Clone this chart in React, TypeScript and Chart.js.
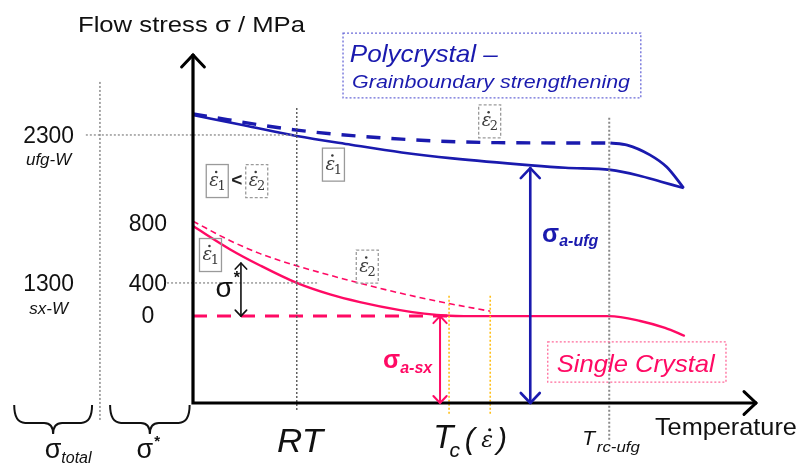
import React, { useEffect, useRef } from 'react';
import { Chart, registerables } from 'chart.js';
Chart.register(...registerables);

// ---- Schematic data (relative temperature 0..100, relative flow stress 0..100) ----
// Polycrystal (ufg-W), strain rate ε̇1 (solid)
const ufgEps1T = [0, 9, 18.4, 28, 37, 46, 60, 66, 74, 79, 83, 87];
const ufgEps1S = [82.5, 79.6, 76.5, 74.0, 71.8, 70.1, 68.1, 67.4, 66.8, 65.2, 63.4, 61.6];
// Polycrystal, strain rate ε̇2 (dashed, until recrystallisation)
const ufgEps2T = [0, 18.4, 37, 54, 74];
const ufgEps2S = [82.8, 78.2, 75.6, 74.6, 74.5];
// Polycrystal above T_rc (solid)
const ufgRcT = [74, 77, 81, 84, 87];
const ufgRcS = [74.5, 73.9, 71.1, 67.6, 61.6];
// Single crystal, ε̇1 (solid)
const sxEps1T = [0, 6.6, 11.9, 18.4, 24.3, 29.6, 36.7, 41, 45.4, 48, 73.8, 79.3, 83.7, 87.2];
const sxEps1S = [50.7, 44.0, 39.4, 34.4, 31.1, 28.9, 26.6, 25.6, 25.0, 24.9, 24.9, 23.5, 21.5, 19.2];
// Single crystal, ε̇2 (thin dashed)
const sxEps2T = [0, 6.6, 11.9, 18.4, 24.3, 29.6, 36.7, 43.8, 52.7];
const sxEps2S = [52.1, 46.5, 42.8, 39.3, 36.6, 34.3, 31.5, 29.0, 26.3];
// Athermal level of single crystal (thick dashed)
const sxAthT = [0, 46];
const sxAthS = [24.9, 24.9];

// Characteristic temperatures
const T_RT = 18.4;
const T_C = [45.4, 52.7];
const T_RC = 73.8;

// Stress levels
const LEVEL_2300 = 76.8;
const LEVEL_400 = 34.4;
const LEVEL_0 = 24.9;
const sigmaStarTickLabels = ['800', '400', '0'];
const sigmaStarTickLevels = [51.0, 33.8, 24.6];
const totalTickLabels = ['2300', '1300'];
const totalTickSubs = ['ufg-W', 'sx-W'];
const totalTickLevels = [76.3, 33.8];

const BLUE = '#1a1aae';
const PINK = '#ff0a64';
const GRAY = '#8a8a8a';
const ORANGE = '#ffbf1a';
const SANS = '"Liberation Sans", Arial, sans-serif';
const SERIF = '"DejaVu Serif", "Liberation Serif", serif';

const zip = (xs: number[], ys: number[]) => xs.map((x, i) => ({ x, y: ys[i] }));

function txt(ctx: CanvasRenderingContext2D, s: string, x: number, y: number, font: string, color: string, width?: number, align: CanvasTextAlign = 'left', baseline: CanvasTextBaseline = 'alphabetic') {
  ctx.save();
  ctx.font = font;
  ctx.fillStyle = color;
  ctx.textBaseline = baseline;
  const w = ctx.measureText(s).width;
  if (width) {
    ctx.textAlign = 'left';
    let x0 = x;
    if (align === 'center') x0 = x - width / 2;
    if (align === 'right') x0 = x - width;
    ctx.translate(x0, y);
    ctx.scale(width / w, 1);
    ctx.fillText(s, 0, 0);
  } else {
    ctx.textAlign = align;
    ctx.fillText(s, x, y);
  }
  ctx.restore();
  return width || w;
}

function arrowHead(ctx: CanvasRenderingContext2D, x: number, y: number, dir: number, size: number, horizontal = false) {
  ctx.beginPath();
  if (horizontal) {
    ctx.moveTo(x - dir * size, y - size * 0.95);
    ctx.lineTo(x, y);
    ctx.lineTo(x - dir * size, y + size * 0.95);
  } else {
    ctx.moveTo(x - size * 0.95, y + dir * size);
    ctx.lineTo(x, y);
    ctx.lineTo(x + size * 0.95, y + dir * size);
  }
  ctx.stroke();
}

function vArrow(ctx: CanvasRenderingContext2D, x: number, yTop: number, yBot: number, color: string, lw: number, head: number) {
  ctx.save();
  ctx.strokeStyle = color;
  ctx.lineWidth = lw;
  ctx.lineCap = 'round';
  ctx.lineJoin = 'round';
  ctx.beginPath();
  ctx.moveTo(x, yTop);
  ctx.lineTo(x, yBot);
  ctx.stroke();
  arrowHead(ctx, x, yTop, 1, head);
  arrowHead(ctx, x, yBot, -1, head);
  ctx.restore();
}

function epsDot(ctx: CanvasRenderingContext2D, x: number, y: number, size: number, sub: string, color: string) {
  ctx.save();
  ctx.font = `italic ${size}px ${SERIF}`;
  ctx.fillStyle = color;
  ctx.textAlign = 'left';
  ctx.textBaseline = 'alphabetic';
  ctx.fillText('ε', x, y);
  const w = ctx.measureText('ε').width;
  ctx.beginPath();
  ctx.arc(x + w * 0.72, y - size * 0.78, Math.max(1, size * 0.07), 0, Math.PI * 2);
  ctx.fill();
  if (sub) {
    ctx.font = `${Math.round(size * 0.72)}px ${SERIF}`;
    ctx.fillText(sub, x + w * 0.85, y + size * 0.22);
  }
  ctx.restore();
}

function epsBox(ctx: CanvasRenderingContext2D, cx: number, cy: number, sub: string, dashed: boolean) {
  const w = 22, h = 33;
  ctx.save();
  ctx.strokeStyle = '#9a9a9a';
  ctx.lineWidth = 1.3;
  ctx.setLineDash(dashed ? [3, 2] : []);
  ctx.strokeRect(cx - w / 2, cy - h / 2, w, h);
  ctx.restore();
  epsDot(ctx, cx - 8, cy + 5, 18, sub, '#3a3a3a');
}

function brace(ctx: CanvasRenderingContext2D, x0: number, x1: number, yTop: number, yBar: number, yTip: number) {
  const xm = (x0 + x1) / 2;
  ctx.save();
  ctx.strokeStyle = '#111';
  ctx.lineWidth = 2;
  ctx.beginPath();
  ctx.moveTo(x0, yTop);
  ctx.quadraticCurveTo(x0, yBar, x0 + 11, yBar);
  ctx.lineTo(xm - 9, yBar);
  ctx.quadraticCurveTo(xm, yBar, xm, yTip);
  ctx.quadraticCurveTo(xm, yBar, xm + 9, yBar);
  ctx.lineTo(x1 - 11, yBar);
  ctx.quadraticCurveTo(x1, yBar, x1, yTop);
  ctx.stroke();
  ctx.restore();
}

function sigmaSub(ctx: CanvasRenderingContext2D, x: number, y: number, mainFont: string, subFont: string, sub: string, color: string, dy: number, sup = false) {
  const w = txt(ctx, 'σ', x, y, mainFont, color);
  txt(ctx, sub, x + w + (sup ? 1 : 0), y + dy, subFont, color);
}

const annotations = {
  id: 'annotations',
  afterDatasetsDraw(chart: any) {
    const ctx: CanvasRenderingContext2D = chart.ctx;
    const xs = chart.scales.x;
    const ys = chart.scales.y;
    const X = (v: number) => xs.getPixelForValue(v);
    const Y = (v: number) => ys.getPixelForValue(v);

    // Axes with arrows
    ctx.save();
    ctx.strokeStyle = '#000';
    ctx.lineWidth = 3.2;
    ctx.lineJoin = 'miter';
    ctx.beginPath();
    ctx.moveTo(X(0), Y(100));
    ctx.lineTo(X(0), Y(0));
    ctx.lineTo(X(100), Y(0));
    ctx.stroke();
    ctx.lineWidth = 3;
    ctx.lineCap = 'round';
    arrowHead(ctx, X(0), Y(100) + 1, 1, 12);
    arrowHead(ctx, X(100) - 1, Y(0), 1, 12, true);
    ctx.restore();

    // Double arrows
    vArrow(ctx, X(8.5), Y(40.1), Y(LEVEL_0), '#111', 1.6, 6);
    vArrow(ctx, X(43.8), Y(LEVEL_0), Y(0), PINK, 2, 7);
    vArrow(ctx, X(59.8), Y(67.3), Y(0), BLUE, 2.6, 10);

    // Title of y axis
    txt(ctx, 'Flow stress σ / MPa', X(-20.4), Y(106.3), `22px ${SANS}`, '#111', 227);

    // Tick labels (two columns)
    sigmaStarTickLabels.forEach((l, i) => {
      txt(ctx, l, X(-8.0), Y(sigmaStarTickLevels[i]), `23px ${SANS}`, '#111', undefined, 'center', 'middle');
    });
    totalTickLabels.forEach((l, i) => {
      txt(ctx, l, X(-25.6), Y(totalTickLevels[i]), `23px ${SANS}`, '#111', l.length * 12.7, 'center', 'middle');
      txt(ctx, totalTickSubs[i], X(-25.6), Y(totalTickLevels[i]) + 24, `italic 17px ${SANS}`, '#111', undefined, 'center', 'middle');
    });

    // Text boxes
    ctx.save();
    ctx.strokeStyle = '#6a6ad8';
    ctx.lineWidth = 1.3;
    ctx.setLineDash([2, 2]);
    ctx.strokeRect(X(26.6), Y(106.0), X(79.4) - X(26.6), Y(87.4) - Y(106.0));
    ctx.strokeStyle = '#ff6a9a';
    ctx.strokeRect(X(62.9), Y(17.5), X(94.5) - X(62.9), Y(6.0) - Y(17.5));
    ctx.restore();
    txt(ctx, 'Polycrystal –', X(27.8), Y(97.7), `italic 24px ${SANS}`, BLUE, 148);
    txt(ctx, 'Grainboundary strengthening', X(28.2), Y(90.3), `italic 19px ${SANS}`, BLUE, 278);
    txt(ctx, 'Single Crystal', X(64.5), Y(8.9), `italic 24px ${SANS}`, PINK, 158);

    // Strain-rate boxes
    epsBox(ctx, X(24.9), Y(68.3), '1', false);
    epsBox(ctx, X(52.6), Y(80.7), '2', true);
    epsBox(ctx, X(4.3), Y(63.6), '1', false);
    epsBox(ctx, X(11.3), Y(63.6), '2', true);
    txt(ctx, '<', X(7.75), Y(63.6), `bold 19px ${SANS}`, '#222', undefined, 'center', 'middle');
    epsBox(ctx, X(3.1), Y(42.4), '1', false);
    epsBox(ctx, X(30.9), Y(39.1), '2', true);

    // Sigma labels
    sigmaSub(ctx, X(4.0), Y(30.4), `28px ${SANS}`, `bold 16px ${SANS}`, '*', '#111', -14, true);
    sigmaSub(ctx, X(61.9), Y(46.1), `bold 25px ${SANS}`, `bold italic 16px ${SANS}`, 'a-ufg', BLUE, 4);
    sigmaSub(ctx, X(33.7), Y(10.0), `bold 25px ${SANS}`, `bold italic 16px ${SANS}`, 'a-sx', PINK, 5);

    // Temperature axis labels
    txt(ctx, 'RT', X(14.9), Y(-14.0), `italic 33px ${SANS}`, '#111', 46);
    txt(ctx, 'T', X(42.6), Y(-12.9), `italic 33px ${SANS}`, '#111');
    txt(ctx, 'c', X(45.5), Y(-15.5), `italic 21px ${SANS}`, '#111');
    txt(ctx, '(', X(48.2), Y(-13.2), `italic 30px ${SANS}`, '#111');
    epsDot(ctx, X(51.1), Y(-12.6), 22, '', '#111');
    txt(ctx, ')', X(53.9), Y(-13.2), `italic 30px ${SANS}`, '#111');
    txt(ctx, 'T', X(69.0), Y(-12.0), `italic 21px ${SANS}`, '#111');
    txt(ctx, 'rc-ufg', X(71.6), Y(-14.0), `italic 14px ${SANS}`, '#111', 43);
    txt(ctx, 'Temperature', X(81.9), Y(-9.2), `24px ${SANS}`, '#111', 142);

    // Braces and their labels
    brace(ctx, X(-31.7), X(-17.9), Y(-0.6), Y(-5.7), Y(-8.9));
    brace(ctx, X(-14.7), X(-0.6), Y(-0.6), Y(-5.7), Y(-8.9));
    sigmaSub(ctx, X(-26.3), Y(-15.8), `27px ${SANS}`, `italic 16px ${SANS}`, 'total', '#111', 5);
    sigmaSub(ctx, X(-10.0), Y(-15.8), `27px ${SANS}`, `bold 15px ${SANS}`, '*', '#111', -12, true);
  },
};

function lineDs(t: number[], s: number[], color: string, width: number, dash: number[] = []) {
  return {
    data: zip(t, s),
    borderColor: color,
    borderWidth: width,
    borderDash: dash,
    pointRadius: 0,
    fill: false,
    cubicInterpolationMode: 'monotone' as const,
    clip: false as const,
  };
}

function guideDs(t: number[], s: number[], color: string, width = 1.5) {
  return {
    data: zip(t, s),
    borderColor: color,
    borderWidth: width,
    borderDash: [2, 2],
    pointRadius: 0,
    fill: false,
    tension: 0,
    clip: false as const,
  };
}

export default function App() {
  const ref = useRef<HTMLCanvasElement | null>(null);
  useEffect(() => {
    if (!ref.current) return;
    const chart = new Chart(ref.current, {
      type: 'line',
      data: {
        datasets: [
          guideDs([-16.5, -16.5], [92, -4.9], GRAY),
          guideDs([-19, T_RT], [LEVEL_2300, LEVEL_2300], GRAY, 1.3),
          guideDs([-4.6, 22], [LEVEL_400, LEVEL_400], GRAY, 1.3),
          guideDs([T_RT, T_RT], [84.5, -2.0], '#555', 1.4),
          guideDs([T_RC, T_RC], [81.7, -10.6], GRAY, 2),
          guideDs([T_C[0], T_C[0]], [30.7, -3.4], ORANGE, 1.6),
          guideDs([T_C[1], T_C[1]], [30.7, -3.4], ORANGE, 1.6),
          lineDs(sxAthT, sxAthS, PINK, 3, [14, 10]),
          lineDs(sxEps2T, sxEps2S, PINK, 1.6, [6, 4]),
          lineDs(sxEps1T, sxEps1S, PINK, 2.4),
          lineDs(ufgEps2T, ufgEps2S, BLUE, 3.4, [14, 11]),
          lineDs(ufgRcT, ufgRcS, BLUE, 2.8),
          lineDs(ufgEps1T, ufgEps1S, BLUE, 2.6),
        ],
      },
      options: {
        responsive: false,
        animation: false,
        events: [],
        layout: { padding: { left: 193, top: 54, right: 42, bottom: 65 } },
        scales: {
          x: { type: 'linear', min: 0, max: 100, display: false },
          y: { type: 'linear', min: 0, max: 100, display: false },
        },
        plugins: { legend: { display: false }, tooltip: { enabled: false } },
      },
      plugins: [annotations],
    });
    return () => chart.destroy();
  }, []);
  return (
    <div style={{ position: 'fixed', left: 0, top: 0, width: 799, height: 468, background: '#fff' }}>
      <canvas ref={ref} width={799} height={468} style={{ display: 'block', width: 799, height: 468 }} />
    </div>
  );
}
